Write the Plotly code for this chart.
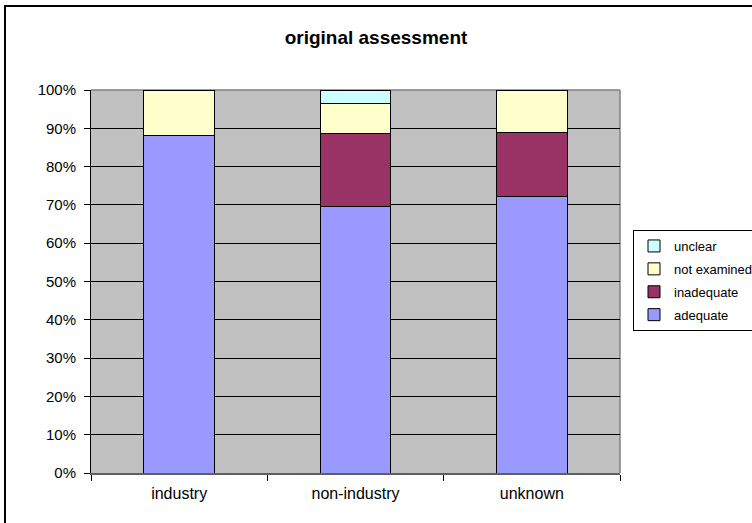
import plotly.graph_objects as go

# Share of studies per assessment outcome (percent), by sponsor type
categories = ["industry", "non-industry", "unknown"]
adequate = [88.0, 69.6, 72.2]
inadequate = [0.0, 19.1, 16.7]
not_examined = [12.0, 7.7, 11.1]
unclear = [0.0, 3.6, 0.0]

series = [
    ("adequate", adequate, "#9999FF"),
    ("inadequate", inadequate, "#993366"),
    ("not examined", not_examined, "#FFFFCC"),
    ("unclear", unclear, "#CCFFFF"),
]

W, H = 752, 523
L, R, T, B = 91, 620, 90, 473  # plot area edges in pixels

fig = go.Figure()
n = len(series)
for i, (name, vals, color) in enumerate(series):
    fig.add_trace(go.Bar(
        x=categories, y=vals, name=name, legendgroup=name,
        legendrank=n - i,  # top of the stack first in the legend
        marker=dict(color=color, line=dict(color="#000000", width=1)),
    ))

font_family = "Liberation Sans, Arial, sans-serif"

def px_x(p):
    return (p - L) / (R - L)

def px_y(p):
    return (B - p) / (B - T)

shapes = [
    # outer chart frame (continues past the right/bottom edges)
    dict(type="rect", xref="paper", yref="paper",
         x0=px_x(5), x1=px_x(W + 20), y0=px_y(H + 20), y1=px_y(6),
         line=dict(color="#000000", width=2), layer="above"),
    # plot area border (top and right)
    dict(type="line", xref="paper", yref="paper", x0=0, x1=1, y0=1, y1=1,
         line=dict(color="#808080", width=1.5), layer="below"),
    dict(type="line", xref="paper", yref="paper", x0=1, x1=1, y0=0, y1=1,
         line=dict(color="#808080", width=1.5), layer="below"),
]

fig.update_layout(
    width=W, height=H,
    margin=dict(l=L, r=W - R, t=T, b=H - B, pad=0),
    barmode="stack", bargap=0.6,
    paper_bgcolor="#FFFFFF", plot_bgcolor="#C0C0C0",
    font=dict(family=font_family, color="#000000", size=14),
    title=dict(text="<b>original assessment</b>", x=0.5, xanchor="center",
               xref="container", y=1 - 37 / H, yanchor="middle", yref="container",
               font=dict(size=19, family=font_family, color="#000000")),
    xaxis=dict(
        type="category", tickson="boundaries", ticks="outside", ticklen=6,
        tickcolor="#000000", showgrid=False, showline=True,
        linecolor="#606060", linewidth=2, zeroline=False,
        tickfont=dict(size=16), ticklabelstandoff=5,
    ),
    yaxis=dict(
        range=[0, 100], dtick=10, ticksuffix="%", ticks="outside", ticklen=6,
        tickcolor="#000000", showgrid=True, gridcolor="#000000", gridwidth=1,
        showline=True, linecolor="#000000", linewidth=1, zeroline=False,
        tickfont=dict(size=15), ticklabelstandoff=5,
    ),
    legend=dict(
        xref="container", yref="container", x=633 / W, y=1 - 230 / H,
        xanchor="left", yanchor="top", traceorder="grouped",
        bgcolor="#FFFFFF", bordercolor="#000000", borderwidth=1,
        font=dict(size=13), itemwidth=30, tracegroupgap=3,
    ),
    shapes=shapes,
    showlegend=True,
)

fig.write_html("out.html")
